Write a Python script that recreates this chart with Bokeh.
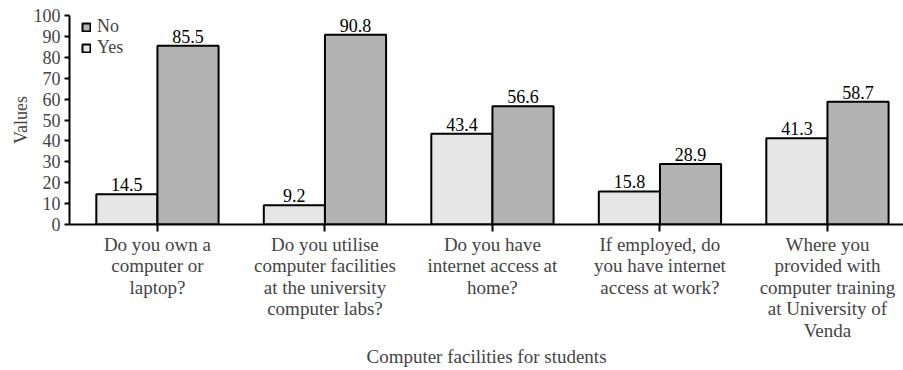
from bokeh.plotting import figure
from bokeh.models import ColumnDataSource, FixedTicker, Legend, LegendItem, Range1d
from bokeh.embed import file_html
from bokeh.resources import INLINE

# Survey questions (category labels) and percentage answers
questions = [
    "Do you own a\ncomputer or\nlaptop?",
    "Do you utilise\ncomputer facilities\nat the university\ncomputer labs?",
    "Do you have\ninternet access at\nhome?",
    "If employed, do\nyou have internet\naccess at work?",
    "Where you\nprovided with\ncomputer training\nat University of\nVenda",
]
yes_values = [14.5, 9.2, 43.4, 15.8, 41.3]
no_values = [85.5, 90.8, 56.6, 28.9, 58.7]
y_ticks = [0, 10, 20, 30, 40, 50, 60, 70, 80, 90, 100]

FONT = "Liberation Serif"
YES_COLOR = "#e6e6e6"
NO_COLOR = "#b3b3b3"
BAR_W = 0.365

centers = [i + 0.5 for i in range(len(questions))]
yes_x = [c - BAR_W / 2 for c in centers]
no_x = [c + BAR_W / 2 for c in centers]

yes_src = ColumnDataSource(dict(x=yes_x, top=yes_values,
                                label=[f"{v:.1f}" for v in yes_values]))
no_src = ColumnDataSource(dict(x=no_x, top=no_values,
                               label=[f"{v:.1f}" for v in no_values]))

# a little padding left of the first group; the last group runs to the edge
p = figure(width=903, height=370, output_backend="svg", toolbar_location=None,
           x_range=Range1d(-0.025, 4.954), y_range=Range1d(0, 100),
           min_border_left=69, min_border_right=0, min_border_top=15,
           min_border_bottom=146)
p.outline_line_color = None
p.grid.grid_line_color = None
p.background_fill_color = "white"
p.border_fill_color = "white"

r_yes = p.vbar(x="x", top="top", bottom=0, width=BAR_W, source=yes_src,
               fill_color=YES_COLOR, line_color="black", line_width=2)
r_no = p.vbar(x="x", top="top", bottom=0, width=BAR_W, source=no_src,
              fill_color=NO_COLOR, line_color="black", line_width=2)

for src in (yes_src, no_src):
    p.text(x="x", y="top", text="label", source=src, text_align="center",
           text_baseline="bottom", y_offset=-3, text_font=FONT,
           text_font_size="18px", text_color="black")

# y axis
ya = p.yaxis[0]
ya.ticker = FixedTicker(ticks=y_ticks)
ya.axis_label = "Values"
ya.axis_label_text_font = FONT
ya.axis_label_text_font_size = "18px"
ya.axis_label_text_font_style = "normal"
ya.axis_label_standoff = 0
ya.major_label_text_font = FONT
ya.major_label_text_font_size = "18px"
ya.major_tick_out = 5
ya.major_tick_in = 0
ya.minor_tick_out = 0
ya.minor_tick_in = 0
ya.major_label_standoff = 4
ya.axis_line_width = 2
ya.major_tick_line_width = 2

# x axis with multi-line question labels
xa = p.xaxis[0]
xa.ticker = FixedTicker(ticks=centers)
xa.major_label_overrides = {c: q for c, q in zip(centers, questions)}
xa.axis_label = "Computer facilities for students"
xa.axis_label_text_font = FONT
xa.axis_label_text_font_size = "19px"
xa.axis_label_text_font_style = "normal"
xa.axis_label_standoff = 2
xa.major_label_text_font = FONT
xa.major_label_text_font_size = "19px"
xa.major_label_text_line_height = 1.03
xa.major_label_text_align = "center"
xa.major_tick_out = 7
xa.major_tick_in = 0
xa.minor_tick_out = 0
xa.minor_tick_in = 0
xa.major_label_standoff = 2
xa.axis_line_width = 2
xa.major_tick_line_width = 2

legend = Legend(items=[LegendItem(label="No", renderers=[r_no]),
                       LegendItem(label="Yes", renderers=[r_yes])],
                location=(12, 166), orientation="vertical",
                glyph_width=10, glyph_height=10, label_standoff=6,
                label_text_font=FONT, label_text_font_size="18px",
                label_height=21, spacing=0, padding=0, margin=0,
                border_line_color=None, background_fill_alpha=0)
p.add_layout(legend)

open("out.html", "w").write(file_html(p, INLINE))
